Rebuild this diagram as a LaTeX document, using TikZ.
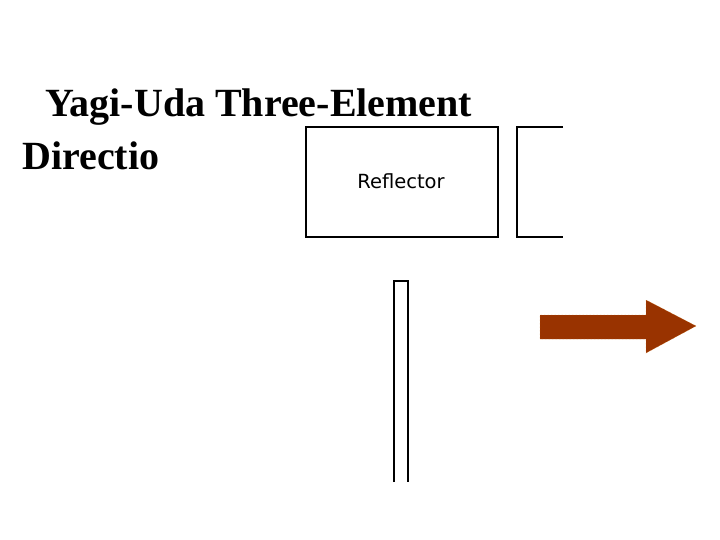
\documentclass[tikz,border=0pt]{standalone}
\usepackage{fontspec}
\setmainfont{Liberation Serif}
\newfontfamily\refont{DejaVu Sans}
\definecolor{arrowbrown}{HTML}{993300}
\begin{document}
\begin{tikzpicture}[x=1pt,y=-1pt,
  elem/.style={draw=black,line width=2.8pt},
  title/.style={font=\fontsize{40}{46}\selectfont\bfseries,anchor=base west,inner sep=0pt}]
\useasboundingbox (0,0) rectangle (720,540);
\node[title] (t1) at (45,117) {Yagi-Uda Three-Element};
\node[title] (t2) at (22,170) {Directio};
\draw[elem] (306,127) rectangle (498,237);
\node[font=\refont\fontsize{19.5}{22}\selectfont,inner sep=0pt] (refl) at (401,181) {Reflector};
\draw[elem] (563,127) -- (517,127) -- (517,237) -- (563,237);
\draw[line width=2pt] (394,482) -- (394,281) -- (408,281) -- (408,482);
\fill[arrowbrown,draw=orange!80!black,line width=0.4pt,densely dotted]
  (540,315) -- (646,315) -- (646,300) -- (696,326) -- (646,353) -- (646,339) -- (540,339) -- cycle;
\end{tikzpicture}
\end{document}
